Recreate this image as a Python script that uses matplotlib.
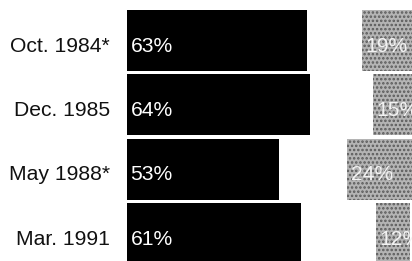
import matplotlib
matplotlib.use("Agg")
import matplotlib.pyplot as plt

categories = ["Oct. 1984*", "Dec. 1985", "May 1988*", "Mar. 1991"]
black_vals = [63, 64, 53, 61]
middle_vals = [19, 22, 24, 26]
grey_vals = [19, 15, 24, 12]
black_labels = ["63%", "64%", "53%", "61%"]
grey_labels = ["19%", "15%", "24%", "12%"]

plt.rcParams['font.family'] = ['Liberation Sans', 'DejaVu Sans']
plt.rcParams['hatch.linewidth'] = 1.2

fig = plt.figure(figsize=(4.12, 2.61), dpi=100)
ax = fig.add_axes([0, 0, 1, 1])
ypos = list(range(len(categories)))
h = 0.95
ax.barh(ypos, black_vals, height=h, color='black', left=0)
lefts_grey = [b + m for b, m in zip(black_vals, middle_vals)]
ax.barh(ypos, grey_vals, height=h, left=lefts_grey, color='#b4b4b4',
        hatch='....', edgecolor='#5a5a5a', linewidth=0)

fs = 15.2
off = 0.09
for y, b, lab in zip(ypos, black_vals, black_labels):
    ax.text(1.2, y + off, lab, color='white', fontsize=fs, va='center', ha='left')
for y, l, lab in zip(ypos, lefts_grey, grey_labels):
    ax.text(l + 1.2, y + off, lab, color='#f2f2f2', fontsize=fs, va='center',
            ha='left', clip_on=True)
for y, lab in zip(ypos, categories):
    ax.text(-6, y + off, lab, color='#111111', fontsize=fs, va='center', ha='right')

ax.set_xlim(-44.4, 99.65)
ax.set_ylim(3.43, -0.63)
ax.axis('off')
fig.savefig("out.png", dpi=100)
